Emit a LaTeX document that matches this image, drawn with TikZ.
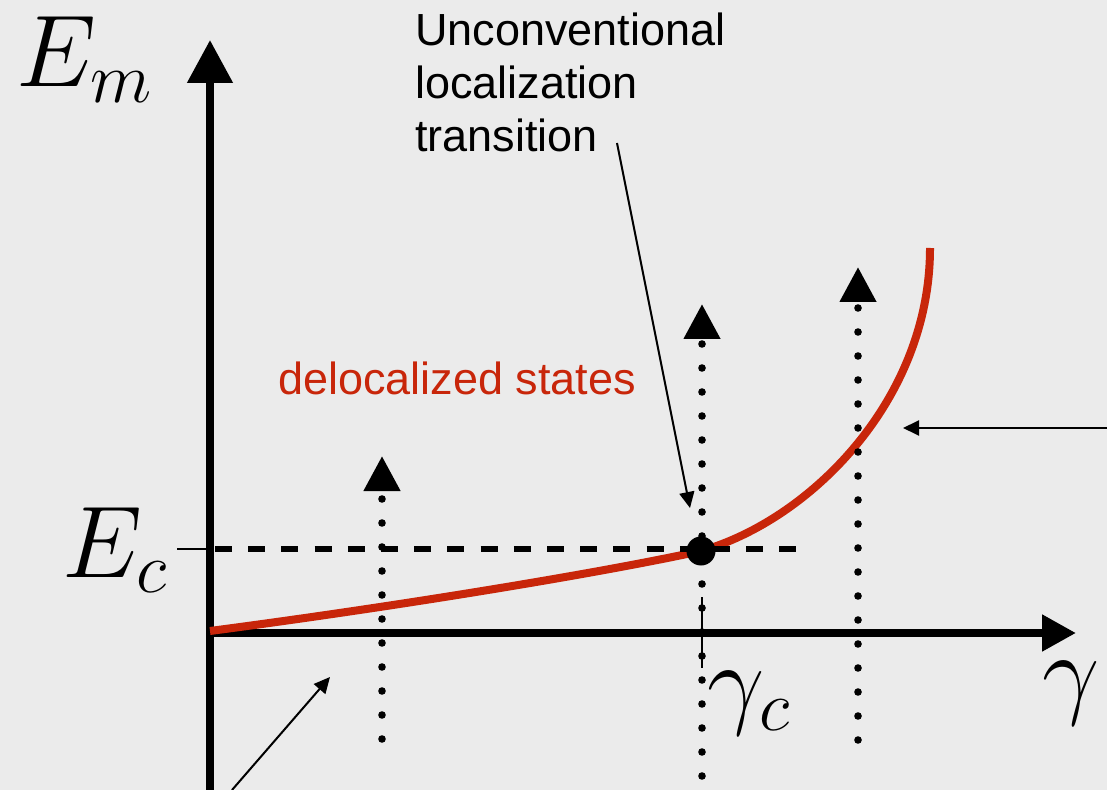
\RequirePackage{fix-cm}
\documentclass[tikz,border=0pt]{standalone}
\usepackage{fontspec}
\newfontfamily\labelfont{Liberation Sans}
\usetikzlibrary{arrows.meta}
\definecolor{Paper}{HTML}{EBEBEB}
\definecolor{Curve}{HTML}{C8260A}

\begin{document}
\begin{tikzpicture}[x=.5pt,y=-.5pt,
    axis/.style={line width=4pt},
    probe/.style={line width=3.8pt,line cap=round,dash pattern=on 0pt off 12pt,-{Triangle[length=17.5pt,width=17.5pt]}},
    pointer/.style={line width=1pt,-{Triangle[length=8pt,width=7.5pt]}},
    mathlabel/.style={inner sep=0pt,anchor=base west,font=\fontsize{51}{54}\selectfont},
    textlabel/.style={inner sep=0pt,font=\labelfont\fontsize{22.5}{26.5}\selectfont}]
  \fill[Paper](0,0)rectangle(1107,790);
  \useasboundingbox(0,0)rectangle(1107,790);
  % axes
  \coordinate(ybot)at(210,790);
  \coordinate(ytop)at(210,40);
  \coordinate(O)at(210,633);
  \coordinate(xtip)at(1076,633);
  \draw[axis,-{Triangle[length=21.5pt,width=22pt]}](ybot)--(ytop);
  \draw[axis,-{Triangle[length=17pt,width=17.5pt]}](O)--(xtip);
  \node[mathlabel](Em)at(16,87){$E_m$};
  \node[mathlabel](Ec)at(62,577){$E_c$};
  \node[mathlabel](gc)at(707,715){$\gamma_c$};
  \node[mathlabel](g)at(1042,705){$\gamma$};
  % ticks
  \coordinate(EcL)at(177,549);
  \coordinate(EcR)at(212,549);
  \coordinate(gcT)at(702,597);
  \coordinate(gcB)at(702,668);
  \draw[line width=1pt](EcL)--(EcR);
  \draw[line width=1pt](gcT)--(gcB);
  % mobility edge
  \draw[Curve,line width=4pt](210,631)..controls(400,606)and(600,573)..(701,551)
    ..controls(810,520)and(930,400)..(930,248);
  \coordinate(EcA)at(215,549);
  \coordinate(EcB)at(797,549);
  \draw[line width=3pt,dash pattern=on 8.5pt off 8.1pt](EcA)--(EcB);
  % probes
  \foreach \px/\pb/\pt/\nm in {382/739/456/pA,702/776/304/pB,858/740/267/pC}{
    \coordinate(\nm0)at(\px,\pb);
    \coordinate(\nm1)at(\px,\pt);
    \draw[probe](\nm0)--(\nm1);
  }
  \node[circle,fill,inner sep=0pt,minimum size=14.5pt](crit)at(701,551){};
  % labels
  \node[textlabel,align=left,anchor=north west](trans)at(415,12){Unconventional\\localization\\transition};
  \node[textlabel,text=Curve,anchor=base west](deloc)at(278,395){delocalized states};
  \coordinate(trfoot)at(617,143);
  \coordinate(trtip)at(690,508);
  \draw[pointer](trfoot)--(trtip);
  \coordinate(edgeR)at(1107,428);
  \coordinate(tipR)at(903,428);
  \draw[pointer](edgeR)--(tipR);
  \coordinate(edgeB)at(232,790);
  \coordinate(tipB)at(330,677);
  \draw[pointer](edgeB)--(tipB);
\end{tikzpicture}
\end{document}
